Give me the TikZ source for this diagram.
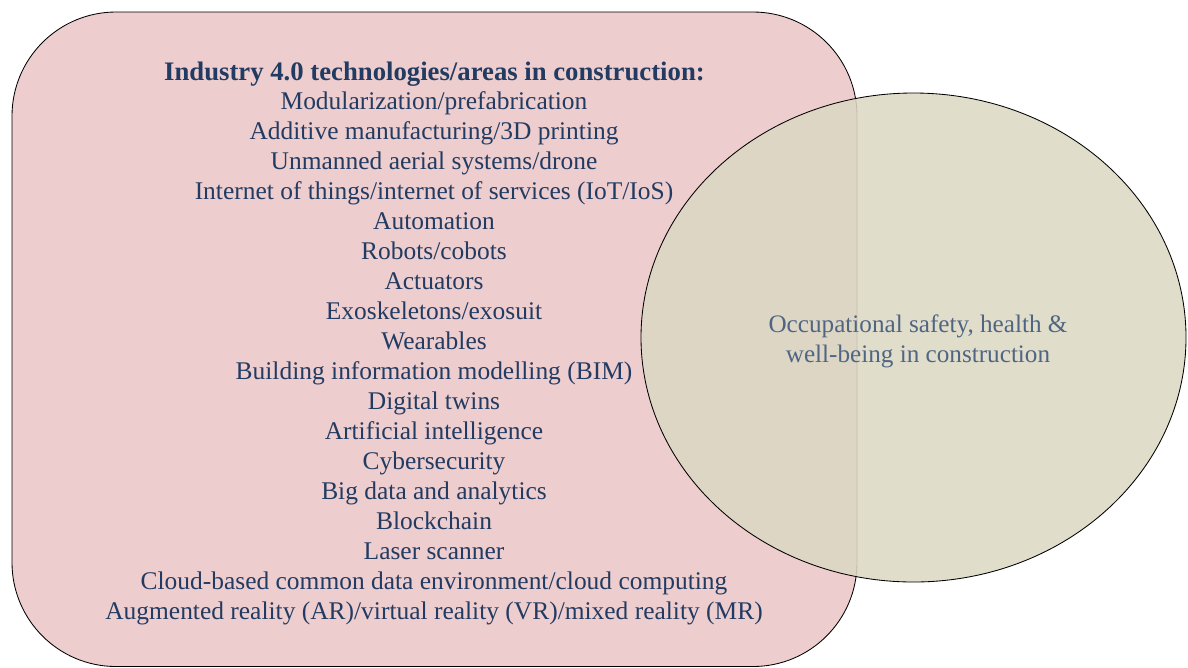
\documentclass[tikz,border=0pt]{standalone}
\usepackage{fontspec}
\setmainfont{Liberation Serif}
\usepackage{tikz}
\definecolor{areafill}{HTML}{EDCDCD}
\definecolor{ohsfill}{HTML}{DCD8C3}
\definecolor{navytext}{HTML}{223B62}
\definecolor{ohstext}{HTML}{4F6584}
\begin{document}
\begin{tikzpicture}[x=0.025cm,y=-0.025cm]
            \tikzstyle{every node}+=[inner sep=0pt]
            \tikzstyle{tech}=[anchor=base,text=navytext,font=\fontsize{18.1}{21}\selectfont]
            \tikzstyle{ohs}=[anchor=base,text=ohstext,font=\fontsize{17.9}{21}\selectfont]
            \useasboundingbox (0,0) rectangle (1188,667);
            \draw [black,line width=0.6pt,fill=areafill,rounded corners=2.6cm] (12,12) rectangle (857,666.5);
            \node [tech,font=\fontsize{19}{21}\selectfont\bfseries] (title) at (434.5,80) {Industry 4.0 technologies/areas in construction:};
            \node [tech] (t1) at (434,109) {Modularization/prefabrication};
            \node [tech] (t2) at (434,139) {Additive manufacturing/3D printing};
            \node [tech] (t3) at (434,169) {Unmanned aerial systems/drone};
            \node [tech] (t4) at (434,199) {Internet of things/internet of services (IoT/IoS)};
            \node [tech] (t5) at (434,229) {Automation};
            \node [tech] (t6) at (434,259) {Robots/cobots};
            \node [tech] (t7) at (434,289) {Actuators};
            \node [tech] (t8) at (434,319) {Exoskeletons/exosuit};
            \node [tech] (t9) at (434,349) {Wearables};
            \node [tech] (t10) at (434,379) {Building information modelling (BIM)};
            \node [tech] (t11) at (434,409) {Digital twins};
            \node [tech] (t12) at (434,439) {Artificial intelligence};
            \node [tech] (t13) at (434,469) {Cybersecurity};
            \node [tech] (t14) at (434,499) {Big data and analytics};
            \node [tech] (t15) at (434,529) {Blockchain};
            \node [tech] (t16) at (434,559) {Laser scanner};
            \node [tech] (t17) at (434,589) {Cloud-based common data environment/cloud computing};
            \node [tech] (t18) at (434,619) {Augmented reality (AR)/virtual reality (VR)/mixed reality (MR)};
            % occupational safety circle
            \draw [black,line width=0.6pt,fill=ohsfill,fill opacity=0.88] (913.5,337.5) ellipse (272.5 and 244.5);
            \node [ohs] (ohs1) at (918,332) {Occupational safety, health \&};
            \node [ohs] (ohs2) at (918,362) {well-being in construction};
        \end{tikzpicture}
\end{document}
